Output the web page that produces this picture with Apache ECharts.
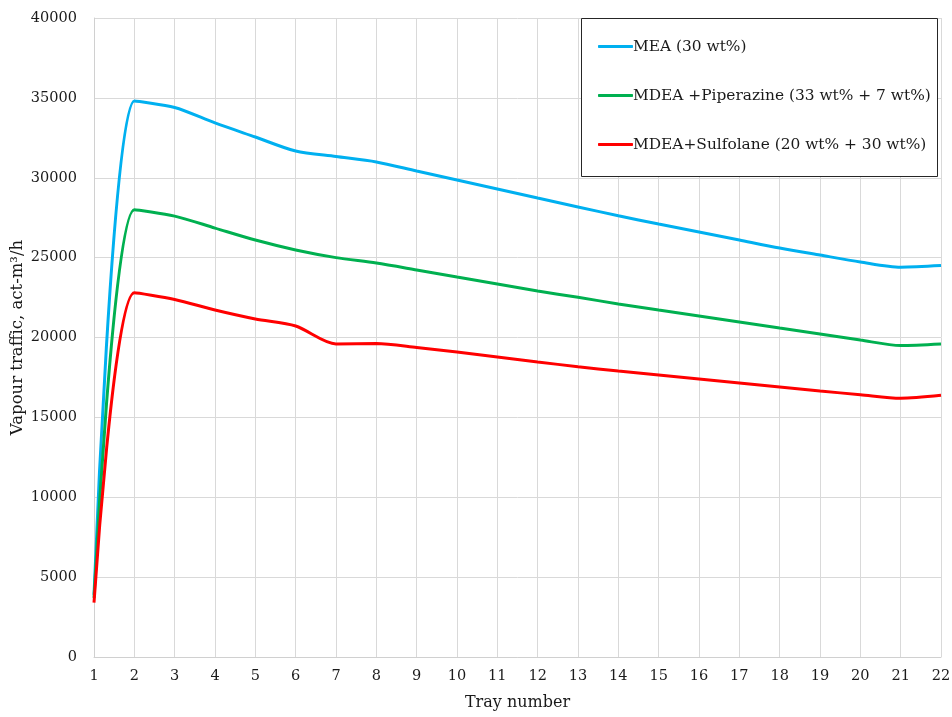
<!DOCTYPE html>
<html>
<head>
<meta charset="utf-8">
<script src="https://cdn.jsdelivr.net/npm/echarts@6/dist/echarts.min.js"></script>
<style>
  html, body { margin: 0; padding: 0; background: #fff; }
  #main { width: 952px; height: 717px; }
</style>
</head>
<body>
<div id="main"></div>
<script>
  // tray numbers 1..22
  const trays = [1, 2, 3, 4, 5, 6, 7, 8, 9, 10, 11, 12, 13, 14, 15, 16, 17, 18, 19, 20, 21, 22];
  const yTicks = [0, 5000, 10000, 15000, 20000, 25000, 30000, 35000, 40000];

  const mea = [3900, 34800, 34400, 33430, 32550, 31670, 31330, 30990, 30420, 29860, 29300, 28730, 28170, 27620, 27100, 26600, 26100, 25600, 25160, 24730, 24400, 24500];
  const mdeaPz = [3700, 28000, 27600, 26850, 26100, 25480, 25000, 24660, 24230, 23790, 23350, 22910, 22520, 22100, 21720, 21350, 20970, 20590, 20220, 19840, 19500, 19600];
  const mdeaSulf = [3400, 22800, 22380, 21720, 21160, 20720, 19600, 19620, 19380, 19090, 18780, 18470, 18170, 17900, 17650, 17400, 17150, 16900, 16650, 16420, 16200, 16380];

  const names = ['MEA (30 wt%)', 'MDEA +Piperazine (33 wt% + 7 wt%)', 'MDEA+Sulfolane (20 wt% + 30 wt%)'];
  const colors = ['#00b0f0', '#00b050', '#ff0000'];

  const font = '"DejaVu Serif", "Liberation Serif", serif';

  function pairs(vals) {
    return trays.map((t, i) => [t, vals[i]]);
  }

  const chart = echarts.init(document.getElementById('main'));
  chart.setOption({
    animation: false,
    textStyle: { fontFamily: font },
    grid: { left: 94, right: 11, top: 18, bottom: 60, outerBoundsMode: 'none' },
    graphic: [{
      type: 'rect',
      shape: { x: 581.5, y: 18.5, width: 356, height: 158 },
      style: { fill: '#fff', stroke: '#262626', lineWidth: 1 },
      z: 10
    }],
    legend: {
      orient: 'vertical',
      left: 593,
      top: 34,
      itemWidth: 35,
      itemHeight: 3,
      itemGap: 34,
      icon: 'roundRect',
      z: 20,
      data: names,
      textStyle: { fontFamily: font, fontSize: 15.4, color: '#1a1a1a', padding: [0, 0, 0, -5] }
    },
    xAxis: {
      type: 'value',
      min: 1,
      max: 22,
      interval: 1,
      name: 'Tray number',
      nameLocation: 'middle',
      nameGap: 38,
      nameMoveOverlap: false,
      nameTextStyle: { fontFamily: font, fontSize: 16, color: '#1a1a1a' },
      axisLine: { lineStyle: { color: '#d0d0d0', width: 1 } },
      axisTick: { show: false },
      axisLabel: { fontFamily: font, fontSize: 14.5, color: '#1a1a1a', margin: 12 },
      splitLine: { show: true, lineStyle: { color: '#d9d9d9', width: 1 } }
    },
    yAxis: {
      type: 'value',
      min: yTicks[0],
      max: yTicks[yTicks.length - 1],
      interval: 5000,
      name: 'Vapour traffic, act-m³/h',
      nameLocation: 'middle',
      nameGap: 68,
      nameMoveOverlap: false,
      nameTextStyle: { fontFamily: font, fontSize: 16.5, color: '#1a1a1a' },
      axisLine: { show: true, lineStyle: { color: '#d0d0d0', width: 1 } },
      axisTick: { show: false },
      axisLabel: { fontFamily: font, fontSize: 14.5, color: '#1a1a1a', margin: 17, formatter: v => String(v) },
      splitLine: { show: true, lineStyle: { color: '#d9d9d9', width: 1 } }
    },
    series: [mea, mdeaPz, mdeaSulf].map((vals, i) => ({
      name: names[i],
      type: 'line',
      data: pairs(vals),
      smooth: 0.28,
      showSymbol: false,
      symbol: 'none',
      color: colors[i],
      lineStyle: { color: colors[i], width: 3 },
      z: 3 + i
    }))
  });
  window.onresize = function () {
    chart.resize();
  };
</script>
</body>
</html>
